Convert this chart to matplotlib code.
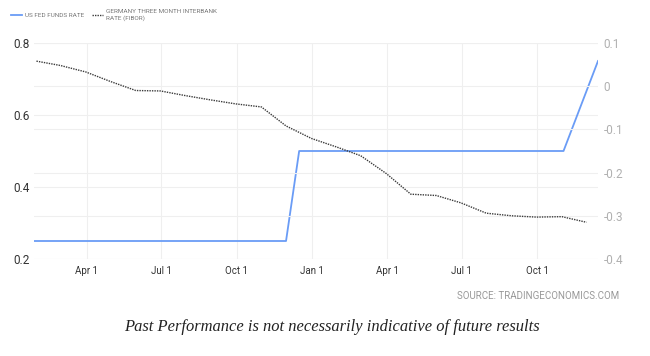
import datetime
import matplotlib
matplotlib.use('Agg')
import matplotlib.pyplot as plt
import matplotlib.dates as mdates
from matplotlib.ticker import FuncFormatter, FixedLocator

plt.rcParams['font.family'] = ['Roboto', 'DejaVu Sans']
plt.rcParams['axes.unicode_minus'] = False

# US fed funds rate, points at rate-change dates
fed_dates = ['2015-01-27', '2015-11-30', '2015-12-16', '2016-11-02', '2016-12-14']
fed_rate = [0.25, 0.25, 0.50, 0.50, 0.75]

# Germany three month interbank rate, month ends
fibor_dates = ['2015-01-30', '2015-02-28', '2015-03-31', '2015-04-30', '2015-05-31',
               '2015-06-30', '2015-07-31', '2015-08-31', '2015-09-30', '2015-10-31',
               '2015-11-30', '2015-12-31', '2016-01-31', '2016-02-29', '2016-03-31',
               '2016-04-30', '2016-05-31', '2016-06-30', '2016-07-31', '2016-08-31',
               '2016-09-30', '2016-10-31', '2016-11-30']
fibor_rate = [0.058, 0.048, 0.033, 0.011, -0.010, -0.011, -0.022, -0.032, -0.041, -0.048,
              -0.092, -0.121, -0.141, -0.161, -0.202, -0.250, -0.253, -0.270, -0.294,
              -0.300, -0.303, -0.302, -0.315]

left_ticks = [0.2, 0.4, 0.6, 0.8]
right_ticks = [-0.4, -0.3, -0.2, -0.1, 0, 0.1]


def to_dt(ds):
    return [datetime.datetime.strptime(d, '%Y-%m-%d') for d in ds]


fig = plt.figure(figsize=(6.5, 3.56), dpi=100)
ax = fig.add_axes([34 / 650, 1 - 259 / 356, (598 - 34) / 650, (259 - 43) / 356])
ax2 = ax.twinx()

grid_col = '#efefef'
ax.plot(to_dt(fed_dates), fed_rate, color='#6a9cf6', lw=1.3, zorder=3)
ax2.plot(to_dt(fibor_dates), fibor_rate, color='#3a3a3a', lw=1.0, ls=(0, (1, 0.8)), zorder=3)

ax.set_xlim(datetime.datetime(2015, 1, 27), datetime.datetime(2016, 12, 14))
ax.set_ylim(0.2, 0.8)
ax2.set_ylim(-0.4, 0.1)
ax.yaxis.set_major_locator(FixedLocator(left_ticks))
ax2.yaxis.set_major_locator(FixedLocator(right_ticks))
ax.yaxis.set_major_formatter(FuncFormatter(lambda v, p: f'{v:g}'))
ax2.yaxis.set_major_formatter(FuncFormatter(lambda v, p: f'{v:g}'))

ax.xaxis.set_major_locator(mdates.MonthLocator(bymonth=[1, 4, 7, 10]))
ax.xaxis.set_major_formatter(FuncFormatter(
    lambda v, p: mdates.num2date(v).strftime('%b ') + str(mdates.num2date(v).day)))

ax.grid(True, color=grid_col, lw=0.8, zorder=0)
ax2.grid(True, axis='y', color=grid_col, lw=0.8, zorder=0)
for a in (ax, ax2):
    for s in a.spines.values():
        s.set_visible(False)
ax.tick_params(axis='both', length=0)
ax2.tick_params(axis='both', length=0)
ax.tick_params(axis='y', labelsize=8.5, labelcolor='#333333', pad=3)
ax.tick_params(axis='x', labelsize=7, labelcolor='#333333', pad=5)
ax2.tick_params(axis='y', labelsize=8.5, labelcolor='#b0b0b0', pad=4)

# legend at top left
h1, = ax.plot([], [], color='#6a9cf6', lw=1.3)
h2, = ax.plot([], [], color='#3a3a3a', lw=1.0, ls=(0, (1, 0.8)))
fig.legend([h1, h2], ['US FED FUNDS RATE', 'GERMANY THREE MONTH INTERBANK\nRATE (FIBOR)'],
           loc='upper left', bbox_to_anchor=(0.008, 0.99), ncol=2, frameon=False,
           fontsize=4.6, labelcolor='#777777', handlelength=1.8, handletextpad=0.4,
           columnspacing=1.2)

fig.text(619 / 650, 1 - 296 / 356, 'SOURCE: TRADINGECONOMICS.COM', ha='right', va='center',
         fontsize=7, color='#999999')
fig.text(332 / 650, 1 - 327 / 356, 'Past Performance is not necessarily indicative of future results',
         ha='center', va='center', fontsize=11.9, style='italic', family='Liberation Serif',
         color='#222222')

fig.savefig('out.png', dpi=100)
